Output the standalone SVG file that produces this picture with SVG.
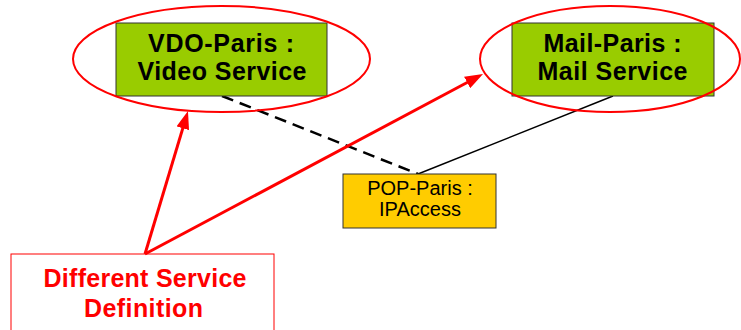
<svg xmlns="http://www.w3.org/2000/svg" width="741" height="330" viewBox="0 0 741 330">
<style>
.svc{fill:#99CC00;stroke:#333333;stroke-width:1}
.pop{fill:#FFCC00;stroke:#333333;stroke-width:1}
.bt{font-family:"Liberation Sans",Arial,sans-serif;font-weight:bold;font-size:25px;fill:#000;text-anchor:middle}
.rt{font-family:"Liberation Sans",Arial,sans-serif;font-size:20px;fill:#000;text-anchor:middle}
.red{font-family:"Liberation Sans",Arial,sans-serif;font-weight:bold;font-size:25px;fill:#FF0000;text-anchor:middle}
.ell{fill:none;stroke:#FF0000;stroke-width:2}
.arr{stroke:#FF0000;stroke-width:3;fill:none;marker-end:url(#ah)}
</style>
<defs>
<marker id="ah" markerUnits="userSpaceOnUse" markerWidth="18" markerHeight="13" refX="8" refY="6.5" orient="auto">
<path d="M0,0 L18,6.5 L0,13 z" fill="#FF0000"/>
</marker>
</defs>
<rect width="741" height="330" fill="#FFFFFF"/>
<g id="connectors">
<line x1="222" y1="96" x2="418" y2="174" stroke="#000" stroke-width="2.5" stroke-dasharray="12,7"/>
<line x1="418" y1="174" x2="613" y2="96" stroke="#000" stroke-width="1.5"/>
</g>
<g id="vdo">
<rect class="svc" x="116" y="23" width="211" height="73"/>
<text class="bt" x="221" y="52" textLength="146">VDO-Paris :</text>
<text class="bt" x="222" y="80" textLength="169">Video Service</text>
</g>
<g id="mail">
<rect class="svc" x="512" y="23" width="202" height="73"/>
<text class="bt" x="612.5" y="52" textLength="138">Mail-Paris :</text>
<text class="bt" x="612.5" y="80" textLength="150">Mail Service</text>
</g>
<g id="pop">
<rect class="pop" x="343" y="174" width="153" height="54"/>
<text class="rt" x="420" y="195">POP-Paris :</text>
<text class="rt" x="420" y="216">IPAccess</text>
</g>
<g id="ellipses">
<ellipse class="ell" cx="221.5" cy="59" rx="148.5" ry="53"/>
<ellipse class="ell" cx="610" cy="59" rx="130" ry="53"/>
</g>
<g id="diff">
<rect x="11" y="254" width="263" height="90" fill="#FFFFFF" stroke="#FF0000" stroke-width="1"/>
<text class="red" x="145" y="287" textLength="203">Different Service</text>
<text class="red" x="143.5" y="317" textLength="119">Definition</text>
</g>
<g id="arrows">
<line class="arr" x1="145" y1="254" x2="185.1" y2="120.6"/>
<line class="arr" x1="145" y1="254" x2="474.2" y2="78.7"/>
</g>
</svg>
